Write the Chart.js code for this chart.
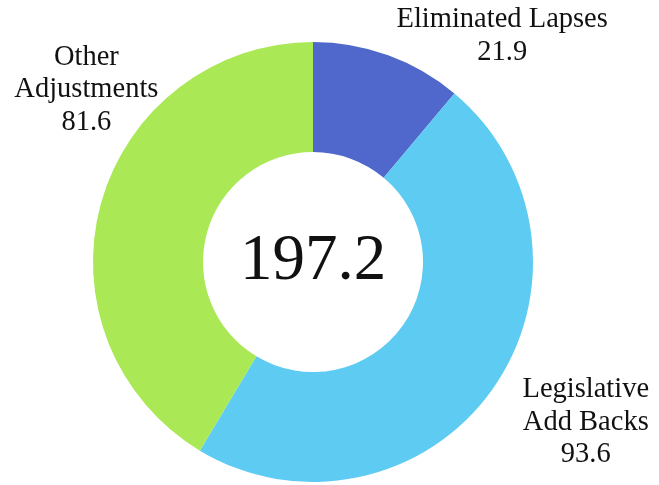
<!DOCTYPE html>
<html>
<head>
<meta charset="utf-8">
<script src="https://cdn.jsdelivr.net/npm/chart.js@4"></script>
<style>
  html, body { margin: 0; padding: 0; background: #fff; }
  #wrap { width: 659px; height: 485px; }
</style>
</head>
<body>
<div id="wrap"><canvas id="adjustments"></canvas></div>
<script>
const categories = [['Eliminated Lapses'], ['Legislative', 'Add Backs'], ['Other', 'Adjustments']]
const values = [21.9, 93.6, 81.6]
const totalLabel = '197.2'
const sliceColors = ['#5068cc', '#5ecbf2', '#aae856']

// where each label block sits, relative to the doughnut centre, in outer radii
const labelOffsets = [[0.86, -1.10], [1.24, 0.58], [-1.03, -0.93]]

const serif = '"Liberation Serif", "DejaVu Serif", serif'

const labelsPlugin = {
  id: 'sliceLabels',
  afterDraw(chart) {
    const ctx = chart.ctx
    const arc = chart.getDatasetMeta(0).data[0]
    const cx = arc.x, cy = arc.y, r = arc.outerRadius
    ctx.save()
    ctx.fillStyle = '#111'
    ctx.textAlign = 'center'
    ctx.textBaseline = 'middle'
    ctx.font = '65px ' + serif
    ctx.fillText(totalLabel, cx, cy)
    ctx.font = '28.5px ' + serif
    categories.forEach((lines, i) => {
      const x = cx + labelOffsets[i][0] * r
      let y = cy + labelOffsets[i][1] * r
      lines.concat([values[i].toFixed(1)]).forEach(t => {
        ctx.fillText(t, x, y)
        y += 32.5
      })
    })
    ctx.restore()
  },
}

const doughnutConfig = {
  type: 'doughnut',
  data: {
    labels: categories.map(c => c.join(' ')),
    datasets: [
      {
        data: values,
        backgroundColor: sliceColors,
        borderWidth: 0,
      },
    ],
  },
  options: {
    responsive: true,
    maintainAspectRatio: false,
    animation: false,
    cutout: '50%',
    layout: { padding: { left: 93, right: 126, top: 42, bottom: 3 } },
    plugins: {
      legend: { display: false },
      tooltip: { enabled: false },
    },
  },
  plugins: [labelsPlugin],
}

const ctx = document.getElementById('adjustments')
window.myDoughnut = new Chart(ctx, doughnutConfig)
</script>
</body>
</html>
